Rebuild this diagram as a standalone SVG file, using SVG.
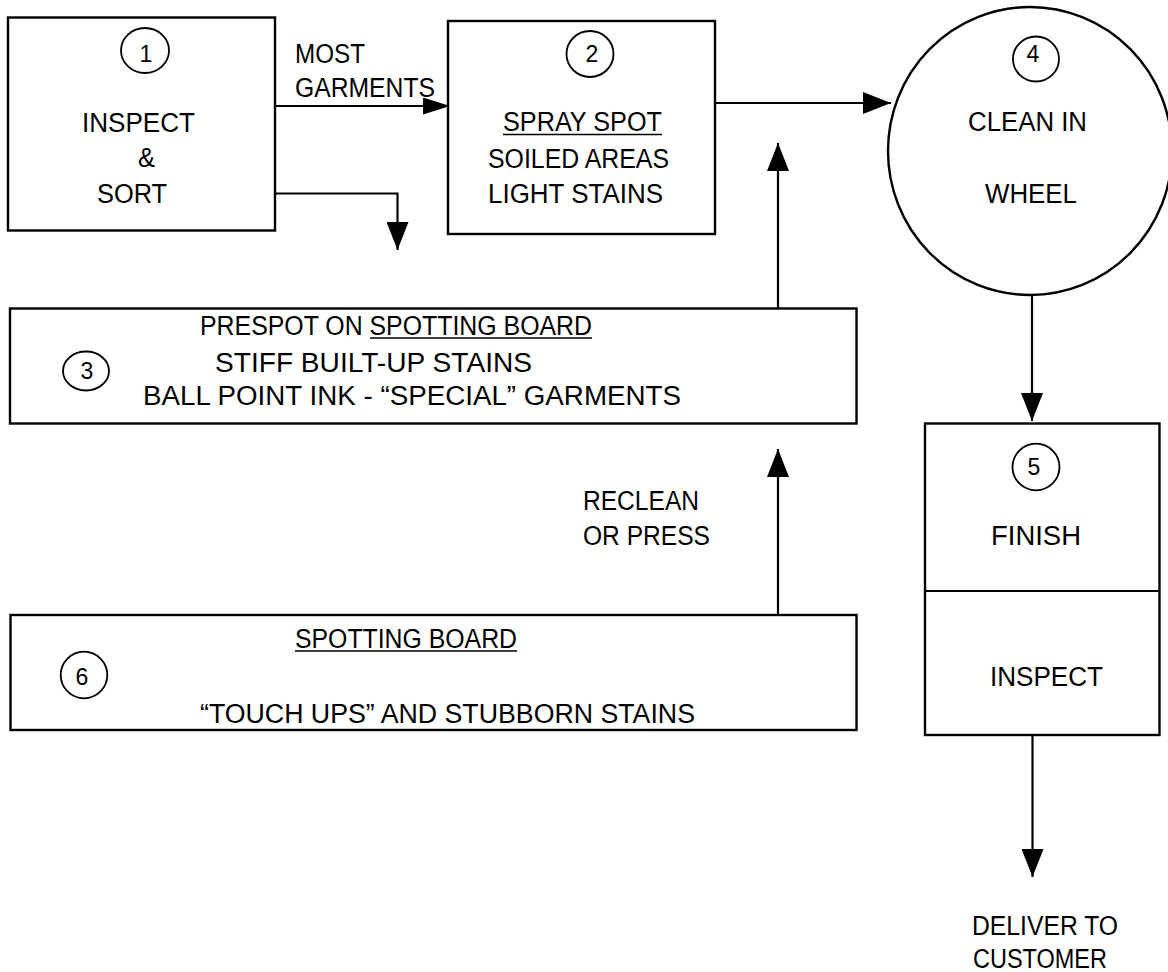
<svg xmlns="http://www.w3.org/2000/svg" width="1168" height="972" viewBox="0 0 1168 972">
<style>
  .box { fill: #fff; stroke: #000; stroke-width: 2.4; }
  .num { fill: none; stroke: #000; stroke-width: 1.8; }
  .wire { fill: none; stroke: #000; stroke-width: 2.2; }
  .ul { stroke: #000; stroke-width: 1.5; }
  text { font-family: "Liberation Sans", Arial, sans-serif; font-size: 27px; fill: #000; }
  .n { font-size: 23px; text-anchor: middle; }
</style>
<defs>
  <marker id="ah" markerUnits="userSpaceOnUse" markerWidth="28" markerHeight="22" refX="28" refY="11" orient="auto">
    <path d="M0,0 L28,11 L0,22 z" fill="#000"/>
  </marker>
  <marker id="ahs" markerUnits="userSpaceOnUse" markerWidth="27" markerHeight="17" refX="27" refY="8.5" orient="auto">
    <path d="M0,0 L27,8.5 L0,17 z" fill="#000"/>
  </marker>
</defs>
<rect width="1168" height="972" fill="#fff"/>

<g id="connectors">
  <line class="wire" x1="275" y1="106" x2="450" y2="106" marker-end="url(#ahs)"/>
  <polyline class="wire" points="275,193.5 397.5,193.5 397.5,250" marker-end="url(#ah)"/>
  <line class="wire" x1="715" y1="103" x2="891" y2="103" marker-end="url(#ah)"/>
  <line class="wire" x1="778" y1="308" x2="778" y2="143" marker-end="url(#ah)"/>
  <line class="wire" x1="778" y1="615" x2="778" y2="449" marker-end="url(#ah)"/>
  <line class="wire" x1="1032" y1="296" x2="1032" y2="421" marker-end="url(#ah)"/>
  <line class="wire" x1="1032.5" y1="735" x2="1032.5" y2="877" marker-end="url(#ah)"/>
</g>

<g id="label-most">
  <text x="295" y="63" textLength="70" lengthAdjust="spacingAndGlyphs">MOST</text>
  <text x="295" y="97" textLength="140" lengthAdjust="spacingAndGlyphs">GARMENTS</text>
</g>
<g id="label-reclean">
  <text x="583" y="510" textLength="116" lengthAdjust="spacingAndGlyphs">RECLEAN</text>
  <text x="583" y="545" textLength="127" lengthAdjust="spacingAndGlyphs">OR PRESS</text>
</g>
<g id="label-deliver">
  <text x="972" y="935" textLength="146" lengthAdjust="spacingAndGlyphs">DELIVER TO</text>
  <text x="973" y="968" textLength="134" lengthAdjust="spacingAndGlyphs">CUSTOMER</text>
</g>

<g id="node1">
  <rect class="box" x="8" y="17.5" width="267" height="213"/>
  <ellipse class="num" cx="145" cy="50.5" rx="24" ry="22.5"/>
  <text class="n" x="146" y="61.5">1</text>
  <text x="82" y="131.5" textLength="113" lengthAdjust="spacingAndGlyphs">INSPECT</text>
  <text x="138" y="166.5" textLength="17" lengthAdjust="spacingAndGlyphs">&amp;</text>
  <text x="97" y="203" textLength="70" lengthAdjust="spacingAndGlyphs">SORT</text>
</g>

<g id="node2">
  <rect class="box" x="448" y="21" width="267" height="213"/>
  <ellipse class="num" cx="590" cy="54" rx="23.5" ry="23"/>
  <text class="n" x="592" y="62">2</text>
  <text x="503" y="131" textLength="159" lengthAdjust="spacingAndGlyphs">SPRAY SPOT</text>
  <line class="ul" x1="503" y1="134.5" x2="662" y2="134.5" stroke="#333"/>
  <text x="488" y="168" textLength="181" lengthAdjust="spacingAndGlyphs">SOILED AREAS</text>
  <text x="488" y="203" textLength="175" lengthAdjust="spacingAndGlyphs">LIGHT STAINS</text>
</g>

<g id="node4">
  <ellipse class="box" cx="1030" cy="151" rx="142" ry="144" stroke-width="2.2"/>
  <ellipse class="num" cx="1036" cy="59" rx="23" ry="22.5"/>
  <text class="n" x="1033" y="61.5">4</text>
  <text x="968" y="130.5" textLength="119" lengthAdjust="spacingAndGlyphs">CLEAN IN</text>
  <text x="985" y="202.5" textLength="92" lengthAdjust="spacingAndGlyphs">WHEEL</text>
</g>

<g id="node3">
  <rect class="box" x="10" y="308.5" width="846.5" height="115"/>
  <ellipse class="num" cx="86" cy="371" rx="23" ry="19.5"/>
  <text class="n" x="87" y="379" font-size="22">3</text>
  <text x="200" y="335" textLength="392" lengthAdjust="spacingAndGlyphs">PRESPOT ON SPOTTING BOARD</text>
  <line class="ul" x1="370" y1="338" x2="592" y2="338" stroke="#666"/>
  <text x="215" y="371.5" textLength="317" lengthAdjust="spacingAndGlyphs">STIFF BUILT-UP STAINS</text>
  <text x="143" y="405" textLength="538" lengthAdjust="spacingAndGlyphs">BALL POINT INK - “SPECIAL” GARMENTS</text>
</g>

<g id="node6">
  <rect class="box" x="10.5" y="615" width="846" height="115"/>
  <ellipse class="num" cx="84" cy="675" rx="23.3" ry="23.3"/>
  <text class="n" x="82" y="685" font-size="26">6</text>
  <text x="295" y="648" textLength="222" lengthAdjust="spacingAndGlyphs">SPOTTING BOARD</text>
  <line class="ul" x1="295" y1="651" x2="517" y2="651"/>
  <text x="200" y="723" textLength="495" lengthAdjust="spacingAndGlyphs">“TOUCH UPS” AND STUBBORN STAINS</text>
</g>

<g id="node5">
  <rect class="box" x="925" y="423.5" width="234.5" height="311.5"/>
  <line class="wire" x1="925" y1="591" x2="1159.5" y2="591"/>
  <ellipse class="num" cx="1036" cy="467" rx="23.5" ry="23.3"/>
  <text class="n" x="1034" y="475">5</text>
  <text x="991" y="545" textLength="90" lengthAdjust="spacingAndGlyphs">FINISH</text>
  <text x="990" y="685.5" textLength="113" lengthAdjust="spacingAndGlyphs">INSPECT</text>
</g>
</svg>
